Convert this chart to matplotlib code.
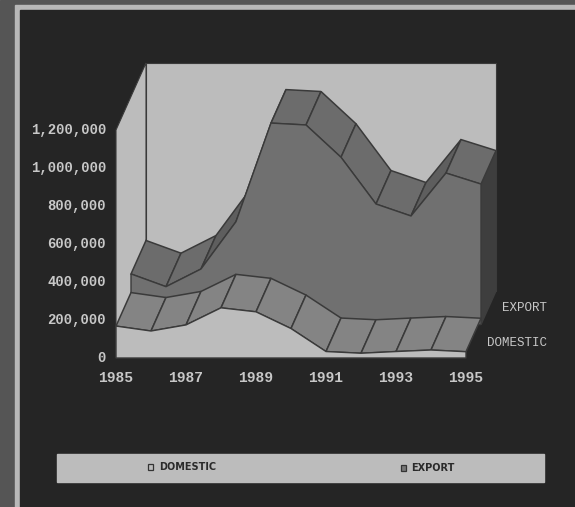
import matplotlib
matplotlib.use('Agg')
import matplotlib.pyplot as plt
import numpy as np

years = np.arange(1985, 1996)
domestic = np.array([168, 142, 174, 264, 243, 155, 34, 25, 34, 42, 33]) * 1000
export_top = np.array([266, 199, 292, 541, 1060, 1050, 880, 634, 571, 797, 739]) * 1000
y_ticks = [0, 200000, 400000, 600000, 800000, 1000000, 1200000]
x_ticks = [1985, 1987, 1989, 1991, 1993, 1995]
series_names = ['DOMESTIC', 'EXPORT']

WALL = '#bcbcbc'
DARK = '#252525'
TXT = '#c8c8c8'
LINE = '#3a3a3a'


def px(year, val, depth=0.0):
    # front plane plus an oblique offset for the depth rows
    x = 116 + 35 * (year - 1985) + 30 * depth
    y = 358 - val * 38 / 200000 - 67 * depth
    return x, y


fig = plt.figure(figsize=(5.75, 5.07), dpi=100)
ax = fig.add_axes([0, 0, 1, 1])
ax.set_xlim(0, 575)
ax.set_ylim(507, 0)
ax.axis('off')

# photo frame around the chart
ax.fill([0, 575, 575, 0], [0, 0, 507, 507], color='#555555', zorder=0)
ax.fill([15, 575, 575, 15], [5, 5, 507, 507], color='#b8b8b8', zorder=1)
ax.fill([20, 575, 575, 20], [10, 10, 507, 507], color=DARK, zorder=2)

# walls
x0, ytop = px(1985, 1200000)
x1, y1 = px(1985, 1200000, 1)
xr = px(1995, 0, 1)[0]
ybase = px(1985, 0, 1)[1]
ax.fill([x1, xr, xr, x1], [y1, y1, ybase, ybase], color=WALL, ec=LINE, lw=0.8, zorder=3)
ax.fill([x0, x1, x1, x0], [ytop, y1, ybase, 358], color=WALL, ec=LINE, lw=0.8, zorder=3)

# export area, front face, side and top ribbon
fx, fy = px(years, export_top, 0.5)
bx, by = px(years, export_top, 1.0)
base_y = px(1985, 0, 0.5)[1]
ax.fill([bx[-1], bx[-1], fx[-1], fx[-1]], [by[-1], ybase, base_y, fy[-1]], color='#3e3e3e', zorder=4)
for i in range(len(years) - 1):
    rise = export_top[i + 1] - export_top[i]
    ax.fill([fx[i], fx[i + 1], bx[i + 1], bx[i]], [fy[i], fy[i + 1], by[i + 1], by[i]],
            fc='#5e5e5e' if rise > 200000 else '#6c6c6c', ec=LINE, lw=1.1, zorder=5)
ax.fill(np.r_[fx, fx[-1], fx[0]], np.r_[fy, base_y, base_y], fc='#707070', ec=LINE, lw=1.0, zorder=6)

# domestic area
dx, dy = px(years, domestic)
ex, ey = px(years, domestic, 0.5)
for i in range(len(years) - 1):
    ax.fill([dx[i], dx[i + 1], ex[i + 1], ex[i]], [dy[i], dy[i + 1], ey[i + 1], ey[i]],
            fc='#848484', ec=LINE, lw=1.1, zorder=7)
ax.fill(np.r_[dx, dx[-1], dx[0]], np.r_[dy, 358, 358], fc=WALL, ec=LINE, lw=1.0, zorder=8)

# axis labels
for v in y_ticks:
    ax.text(106, px(1985, v)[1], f'{v:,}', ha='right', va='center', color=TXT,
            fontsize=10, family='Liberation Mono', fontweight='bold', zorder=9)
for yr in x_ticks:
    ax.text(px(yr, 0)[0], 378, str(yr), ha='center', va='center', color=TXT,
            fontsize=10.5, family='Liberation Mono', fontweight='bold', zorder=9)
ax.text(547, 308, series_names[1], ha='right', va='center', color=TXT, fontsize=9,
        family='Liberation Mono', zorder=9)
ax.text(547, 343, series_names[0], ha='right', va='center', color=TXT, fontsize=9,
        family='Liberation Mono', zorder=9)

# legend strip
ax.fill([57, 544, 544, 57], [454, 454, 482, 482], color=WALL, zorder=3)
ax.fill([148, 153, 153, 148], [464, 464, 470, 470], fc=WALL, ec='#333333', lw=0.9, zorder=4)
ax.text(159, 467, series_names[0], ha='left', va='center', fontsize=7, fontweight='bold', color='#2a2a2a', zorder=4)
ax.fill([401, 406, 406, 401], [465, 465, 471, 471], fc='#777777', ec='#333333', lw=0.9, zorder=4)
ax.text(411, 468, series_names[1], ha='left', va='center', fontsize=7, fontweight='bold', color='#2a2a2a', zorder=4)

fig.savefig('out.png', dpi=100)
